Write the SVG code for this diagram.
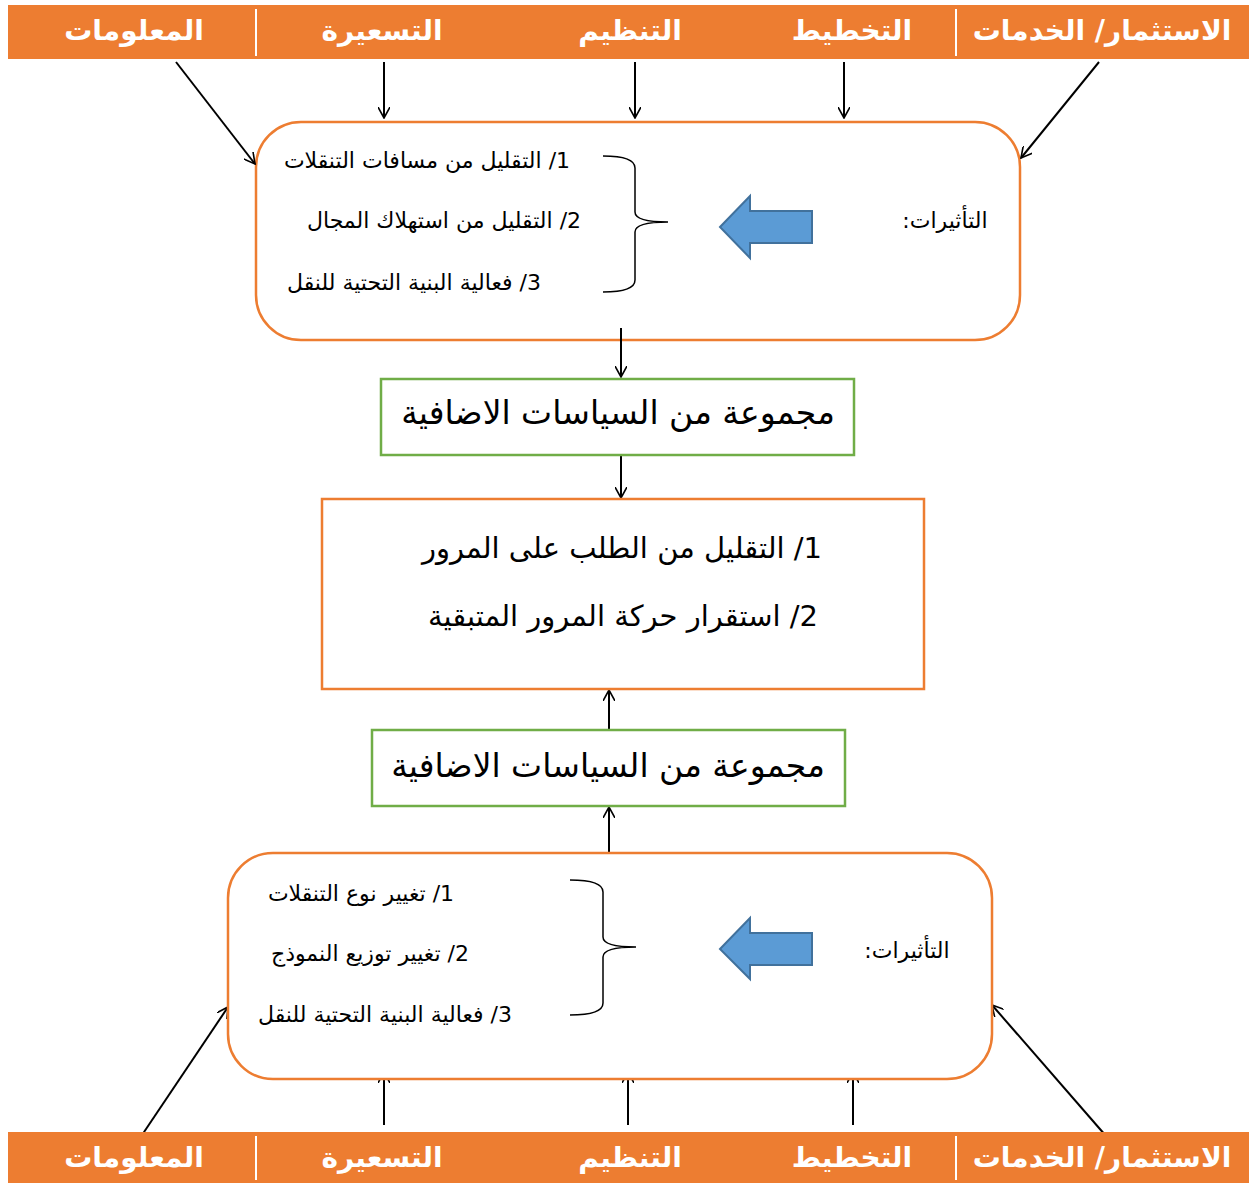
<svg xmlns="http://www.w3.org/2000/svg" width="1249" height="1186" viewBox="0 0 1249 1186">
<defs>
<style>
.bar{fill:#ED7D31}
.div{stroke:#fff;stroke-width:2}
.bt{font-family:"DejaVu Sans","Liberation Sans",sans-serif;font-weight:bold;font-size:28px;fill:#fff;text-anchor:middle;direction:rtl}
.rbox{fill:#fff;stroke:#ED7D31;stroke-width:2.5}
.gbox{fill:#fff;stroke:#70AD47;stroke-width:2.5}
.obox{fill:#fff;stroke:#ED7D31;stroke-width:2.5}
.t{font-family:"DejaVu Sans","Liberation Sans",sans-serif;fill:#000;text-anchor:middle;direction:rtl}
.s{font-size:22px}
.m{font-size:29px}
.l{font-size:33px}
.con{stroke:#000;stroke-width:2;fill:none}
.brace{stroke:#000;stroke-width:1.5;fill:none}
.blue{fill:#5B9BD5;stroke:#41719C;stroke-width:2}
</style>
<marker id="ah" viewBox="0 0 12 12" refX="11" refY="6" markerWidth="12" markerHeight="12" markerUnits="userSpaceOnUse" orient="auto">
<path d="M0,0 L11,6 L0,12" fill="none" stroke="#000" stroke-width="1.6"/>
</marker>
</defs>
<rect width="1249" height="1186" fill="#fff"/>

<g id="top-bar">
<rect class="bar" x="8" y="5" width="1241" height="54"/>
<line class="div" x1="256" y1="9" x2="256" y2="56"/>
<line class="div" x1="956" y1="9" x2="956" y2="56"/>
<text class="bt" x="134" y="40">المعلومات</text>
<text class="bt" x="382" y="40">التسعيرة</text>
<text class="bt" x="630" y="40">التنظيم</text>
<text class="bt" x="852" y="40">التخطيط</text>
<text class="bt" x="1102" y="40">الاستثمار/ الخدمات</text>
</g>

<g id="top-effects">
<rect class="rbox" x="256" y="122" width="764" height="218" rx="45"/>
<text class="t s" x="427" y="168">1/ التقليل من مسافات التنقلات</text>
<text class="t s" x="444" y="228">2/ التقليل من استهلاك المجال</text>
<text class="t s" x="414" y="290">3/ فعالية البنية التحتية للنقل</text>
<path class="brace" d="M603,156 Q635,156 635,168 L635,212 Q635,222 668,222 Q635,222 635,232 L635,280 Q635,292 603,292"/>
<path class="blue" d="M720,227 L750,196 L750,211 L812,211 L812,243 L750,243 L750,258 Z"/>
<text class="t s" x="945" y="228">التأثيرات:</text>
</g>

<g id="connectors">
<line class="con" x1="176" y1="62" x2="255" y2="164" marker-end="url(#ah)"/>
<line class="con" x1="384" y1="62" x2="384" y2="118" marker-end="url(#ah)"/>
<line class="con" x1="635" y1="62" x2="635" y2="118" marker-end="url(#ah)"/>
<line class="con" x1="844" y1="62" x2="844" y2="118" marker-end="url(#ah)"/>
<line class="con" x1="1099" y1="62" x2="1021" y2="158" marker-end="url(#ah)"/>
<line class="con" x1="621" y1="328" x2="621" y2="377" marker-end="url(#ah)"/>
<line class="con" x1="621" y1="452" x2="621" y2="498" marker-end="url(#ah)"/>
<line class="con" x1="609" y1="730" x2="609" y2="690" marker-end="url(#ah)"/>
<line class="con" x1="609" y1="853" x2="609" y2="807" marker-end="url(#ah)"/>
<line class="con" x1="140" y1="1138" x2="228" y2="1007" marker-end="url(#ah)"/>
<line class="con" x1="384" y1="1125" x2="384" y2="1072" marker-end="url(#ah)"/>
<line class="con" x1="628" y1="1125" x2="628" y2="1072" marker-end="url(#ah)"/>
<line class="con" x1="853" y1="1125" x2="853" y2="1072" marker-end="url(#ah)"/>
<line class="con" x1="1106" y1="1136" x2="992" y2="1005" marker-end="url(#ah)"/>
</g>

<g id="policies-1">
<rect class="gbox" x="381" y="379" width="473" height="76"/>
<text class="t l" x="618" y="424">مجموعة من السياسات الاضافية</text>
</g>

<g id="results">
<rect class="obox" x="322" y="499" width="602" height="190"/>
<text class="t m" x="622" y="558">1/ التقليل من الطلب على المرور</text>
<text class="t m" x="623" y="626">2/ استقرار حركة المرور المتبقية</text>
</g>

<g id="policies-2">
<rect class="gbox" x="372" y="730" width="473" height="76"/>
<text class="t l" x="608" y="777">مجموعة من السياسات الاضافية</text>
</g>

<g id="bottom-effects">
<rect class="rbox" x="228" y="853" width="764" height="226" rx="45"/>
<text class="t s" x="361" y="901">1/ تغيير نوع التنقلات</text>
<text class="t s" x="370" y="961">2/ تغيير توزيع النموذج</text>
<text class="t s" x="385" y="1022">3/ فعالية البنية التحتية للنقل</text>
<path class="brace" d="M570,880 Q603,880 603,892 L603,937 Q603,947 636,947 Q603,947 603,957 L603,1003 Q603,1015 570,1015"/>
<path class="blue" d="M720,949 L750,918 L750,933 L812,933 L812,965 L750,965 L750,979 Z"/>
<text class="t s" x="907" y="958">التأثيرات:</text>
</g>

<g id="bottom-bar">
<rect class="bar" x="8" y="1132" width="1241" height="51"/>
<line class="div" x1="256" y1="1136" x2="256" y2="1180"/>
<line class="div" x1="956" y1="1136" x2="956" y2="1180"/>
<text class="bt" x="134" y="1167">المعلومات</text>
<text class="bt" x="382" y="1167">التسعيرة</text>
<text class="bt" x="630" y="1167">التنظيم</text>
<text class="bt" x="852" y="1167">التخطيط</text>
<text class="bt" x="1102" y="1167">الاستثمار/ الخدمات</text>
</g>
</svg>
